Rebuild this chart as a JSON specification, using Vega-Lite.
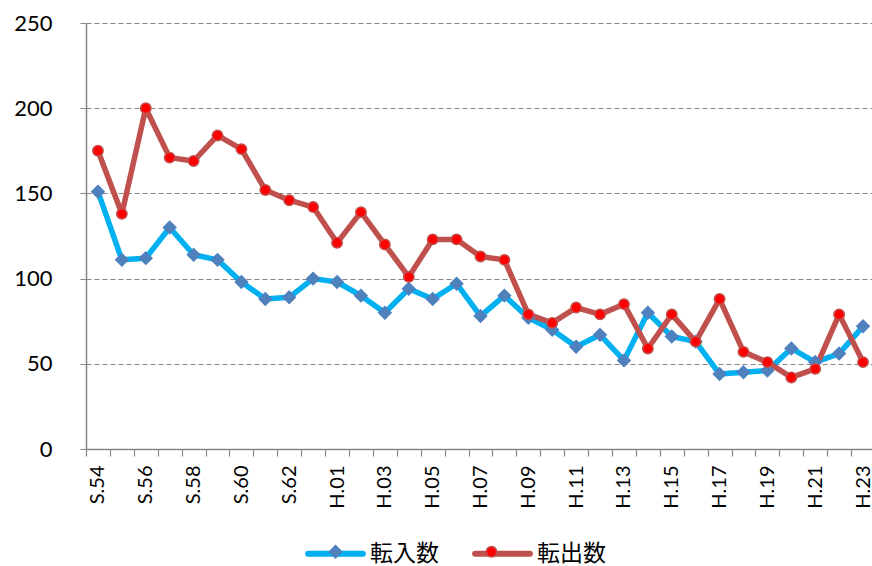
{
  "$schema": "https://vega.github.io/schema/vega-lite/v6.json",
  "autosize": {"type": "none"},
  "width": 789,
  "height": 426,
  "padding": {"left": 86, "top": 23, "right": 0, "bottom": 117},
  "background": "white",
  "config": {
    "view": {"stroke": null},
    "font": "Lato",
    "axis": {"labelFont": "Lato", "labelColor": "#000000"}
  },
  "data": {
    "values": [
      {"year": "S.54", "series": "転入数", "value": 151},
      {"year": "S.55", "series": "転入数", "value": 111},
      {"year": "S.56", "series": "転入数", "value": 112},
      {"year": "S.57", "series": "転入数", "value": 130},
      {"year": "S.58", "series": "転入数", "value": 114},
      {"year": "S.59", "series": "転入数", "value": 111},
      {"year": "S.60", "series": "転入数", "value": 98},
      {"year": "S.61", "series": "転入数", "value": 88},
      {"year": "S.62", "series": "転入数", "value": 89},
      {"year": "S.63", "series": "転入数", "value": 100},
      {"year": "H.01", "series": "転入数", "value": 98},
      {"year": "H.02", "series": "転入数", "value": 90},
      {"year": "H.03", "series": "転入数", "value": 80},
      {"year": "H.04", "series": "転入数", "value": 94},
      {"year": "H.05", "series": "転入数", "value": 88},
      {"year": "H.06", "series": "転入数", "value": 97},
      {"year": "H.07", "series": "転入数", "value": 78},
      {"year": "H.08", "series": "転入数", "value": 90},
      {"year": "H.09", "series": "転入数", "value": 77},
      {"year": "H.10", "series": "転入数", "value": 70},
      {"year": "H.11", "series": "転入数", "value": 60},
      {"year": "H.12", "series": "転入数", "value": 67},
      {"year": "H.13", "series": "転入数", "value": 52},
      {"year": "H.14", "series": "転入数", "value": 80},
      {"year": "H.15", "series": "転入数", "value": 66},
      {"year": "H.16", "series": "転入数", "value": 63},
      {"year": "H.17", "series": "転入数", "value": 44},
      {"year": "H.18", "series": "転入数", "value": 45},
      {"year": "H.19", "series": "転入数", "value": 46},
      {"year": "H.20", "series": "転入数", "value": 59},
      {"year": "H.21", "series": "転入数", "value": 51},
      {"year": "H.22", "series": "転入数", "value": 56},
      {"year": "H.23", "series": "転入数", "value": 72},
      {"year": "S.54", "series": "転出数", "value": 175},
      {"year": "S.55", "series": "転出数", "value": 138},
      {"year": "S.56", "series": "転出数", "value": 200},
      {"year": "S.57", "series": "転出数", "value": 171},
      {"year": "S.58", "series": "転出数", "value": 169},
      {"year": "S.59", "series": "転出数", "value": 184},
      {"year": "S.60", "series": "転出数", "value": 176},
      {"year": "S.61", "series": "転出数", "value": 152},
      {"year": "S.62", "series": "転出数", "value": 146},
      {"year": "S.63", "series": "転出数", "value": 142},
      {"year": "H.01", "series": "転出数", "value": 121},
      {"year": "H.02", "series": "転出数", "value": 139},
      {"year": "H.03", "series": "転出数", "value": 120},
      {"year": "H.04", "series": "転出数", "value": 101},
      {"year": "H.05", "series": "転出数", "value": 123},
      {"year": "H.06", "series": "転出数", "value": 123},
      {"year": "H.07", "series": "転出数", "value": 113},
      {"year": "H.08", "series": "転出数", "value": 111},
      {"year": "H.09", "series": "転出数", "value": 79},
      {"year": "H.10", "series": "転出数", "value": 74},
      {"year": "H.11", "series": "転出数", "value": 83},
      {"year": "H.12", "series": "転出数", "value": 79},
      {"year": "H.13", "series": "転出数", "value": 85},
      {"year": "H.14", "series": "転出数", "value": 59},
      {"year": "H.15", "series": "転出数", "value": 79},
      {"year": "H.16", "series": "転出数", "value": 63},
      {"year": "H.17", "series": "転出数", "value": 88},
      {"year": "H.18", "series": "転出数", "value": 57},
      {"year": "H.19", "series": "転出数", "value": 51},
      {"year": "H.20", "series": "転出数", "value": 42},
      {"year": "H.21", "series": "転出数", "value": 47},
      {"year": "H.22", "series": "転出数", "value": 79},
      {"year": "H.23", "series": "転出数", "value": 51}
    ]
  },
  "encoding": {
    "x": {
      "field": "year",
      "type": "ordinal",
      "sort": null,
      "scale": {"paddingInner": 0, "paddingOuter": 0},
      "axis": {
        "title": null,
        "labelAngle": -90,
        "labelFontSize": 20,
        "labelPadding": 9,
        "labelExpr": "(slice(datum.value,0,1)=='S' ? toNumber(slice(datum.value,2))%2==0 : toNumber(slice(datum.value,2))%2==1) ? datum.value : ''",
        "tickOffset": -12,
        "labelOffset": 12,
        "tickSize": 7,
        "tickColor": "#868686",
        "domainColor": "#868686",
        "domainWidth": 1.5,
        "tickWidth": 1.2,
        "grid": false
      }
    },
    "y": {
      "field": "value",
      "type": "quantitative",
      "scale": {"domain": [0, 250], "nice": false},
      "axis": {
        "title": null,
        "values": [0, 50, 100, 150, 200, 250],
        "labelFontSize": 22,
        "labelPadding": 28,
        "tickSize": 6,
        "tickColor": "#868686",
        "domainColor": "#868686",
        "domainWidth": 1.5,
        "grid": true,
        "gridColor": "#868686",
        "gridDash": [5, 3],
        "gridWidth": 1.2
      }
    }
  },
  "resolve": {"legend": {"shape": "independent", "fill": "independent", "stroke": "independent"}},
  "layer": [
    {
      "transform": [{"filter": "datum.series == '転入数'"}],
      "mark": {"type": "line", "strokeWidth": 5.5, "strokeJoin": "round"},
      "encoding": {
        "color": {
          "field": "series",
          "type": "nominal",
          "scale": {"domain": ["転入数", "転出数"], "range": ["#00B0F0", "#C0504D"]},
          "legend": {
            "title": null,
            "orient": "none",
            "direction": "horizontal",
            "legendX": 219,
            "legendY": 500,
            "padding": 0,
            "symbolType": "stroke",
            "symbolStrokeWidth": 6,
            "symbolSize": 3000,
            "labelFont": "Noto Sans CJK JP",
            "labelFontSize": 23,
            "labelLimit": 300,
            "labelColor": "#000000",
            "columnPadding": 24,
            "labelOffset": 4,
            "encode": {
              "symbols": {"update": {"strokeWidth": {"value": 6}, "strokeCap": {"value": "round"}}}
            }
          }
        }
      }
    },
    {
      "transform": [{"filter": "datum.series == '転出数'"}],
      "mark": {"type": "line", "strokeWidth": 5.5, "strokeJoin": "round"},
      "encoding": {
        "color": {"field": "series", "type": "nominal"}
      }
    },
    {
      "mark": {"type": "point", "filled": true, "opacity": 1, "strokeWidth": 1.5, "size": 3000},
      "encoding": {
        "shape": {
          "field": "series",
          "type": "nominal",
          "scale": {
            "domain": ["転入数", "転出数"],
            "range": ["M0,-0.225L0.225,0L0,0.225L-0.225,0Z", "M-0.19,0A0.19,0.19 0 1,0 0.19,0A0.19,0.19 0 1,0 -0.19,0Z"]
          },
          "legend": {
            "title": null,
            "orient": "none",
            "direction": "horizontal",
            "legendX": 221,
            "legendY": 500,
            "padding": 0,
            "symbolStrokeWidth": 1.5,
            "symbolSize": 3000,
            "labelFont": "Noto Sans CJK JP",
            "labelFontSize": 23,
            "labelLimit": 300,
            "labelExpr": "''",
            "columnPadding": 95,
            "labelOffset": 4,
            "encode": {
              "symbols": {
                "update": {
                  "strokeWidth": {"value": 1.5},
                  "opacity": {"value": 1},
                  "fill": {"signal": "datum.value == '転入数' ? '#4F81BD' : '#FF0000'"},
                  "stroke": {"signal": "datum.value == '転入数' ? '#4F81BD' : '#C0504D'"}
                }
              }
            }
          }
        },
        "fill": {
          "field": "series",
          "type": "nominal",
          "scale": {"domain": ["転入数", "転出数"], "range": ["#4F81BD", "#FF0000"]},
          "legend": null
        },
        "stroke": {
          "field": "series",
          "type": "nominal",
          "scale": {"domain": ["転入数", "転出数"], "range": ["#4F81BD", "#C0504D"]},
          "legend": null
        }
      }
    }
  ]
}
